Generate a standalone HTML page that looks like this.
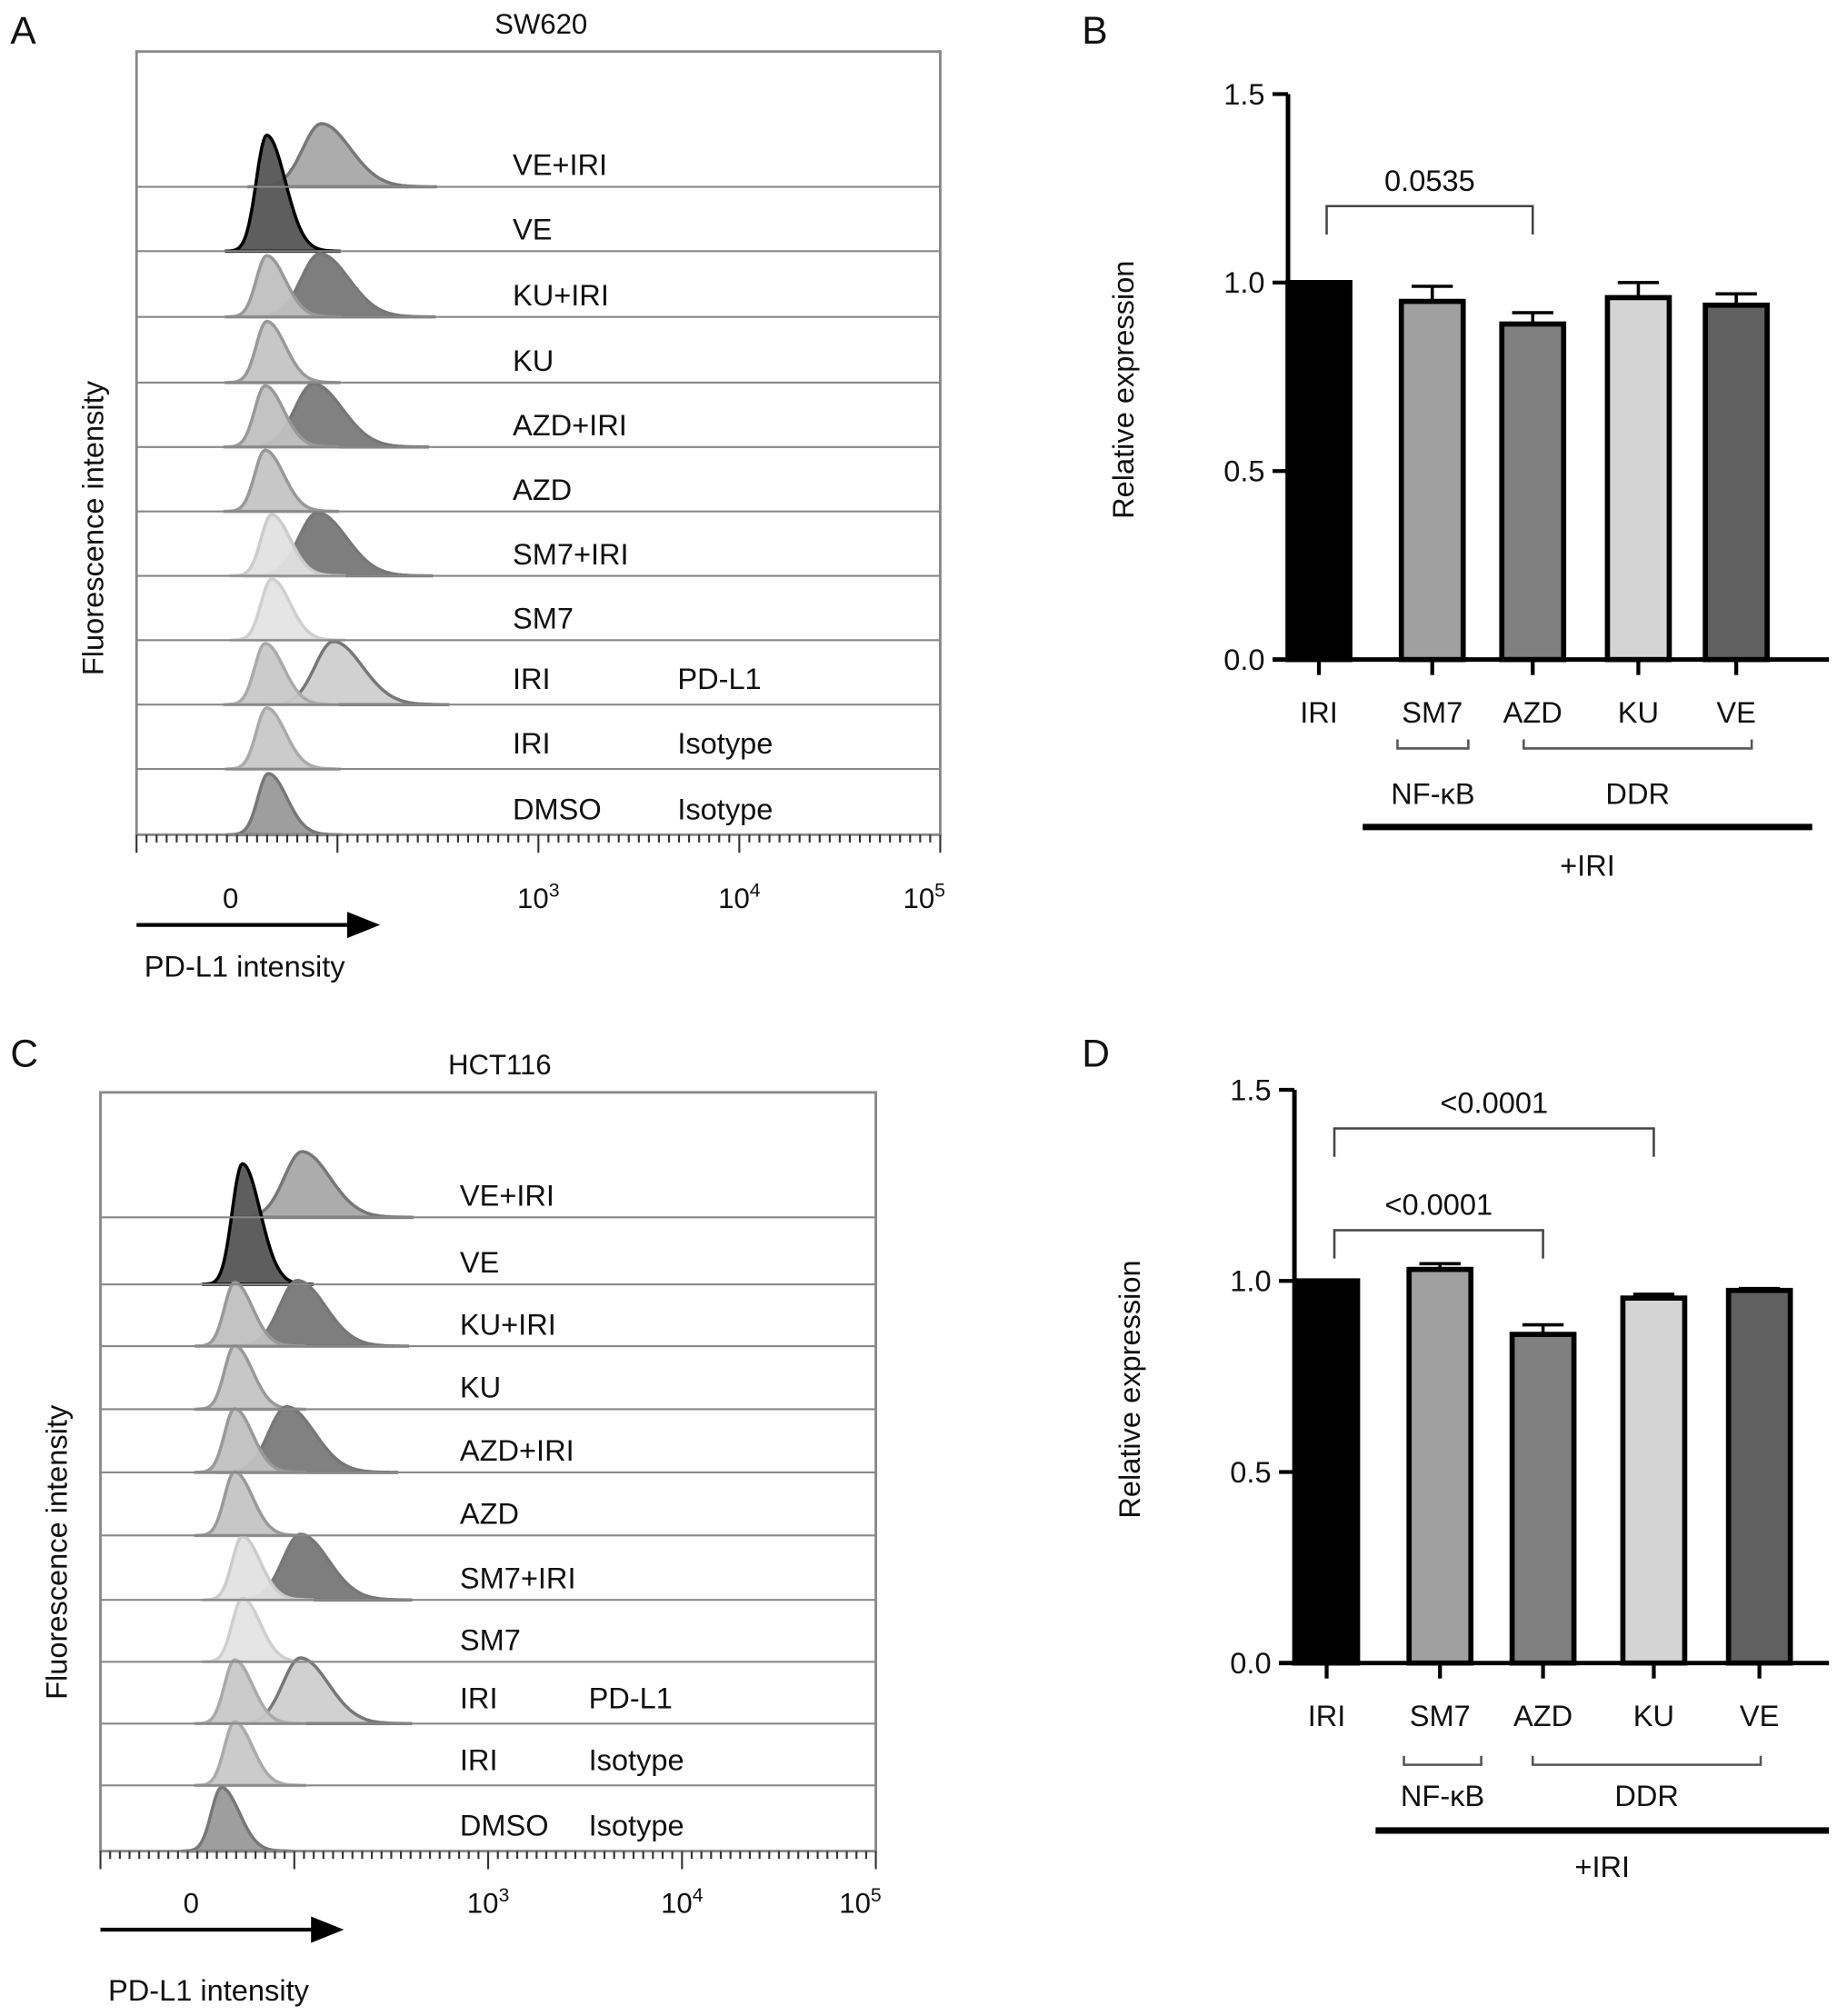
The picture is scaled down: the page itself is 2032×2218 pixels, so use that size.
<!DOCTYPE html>
<html><head><meta charset="utf-8"><style>
html,body{margin:0;padding:0;background:#fff}
svg{display:block}
text{font-family:"Liberation Sans",Arial,sans-serif;fill:#111}
</style></head><body>
<svg id="fig" width="2032" height="2218" viewBox="0 0 1434 1565" preserveAspectRatio="none" xmlns="http://www.w3.org/2000/svg">
<text x="8" y="34" font-size="30">A</text>
<text x="840" y="34" font-size="30">B</text>
<text x="8" y="828" font-size="30">C</text>
<text x="840" y="828" font-size="30">D</text>
<g id="pa"></g>
<g id="pc"></g>
<g id="pb"></g>
<g id="pd"></g>
</svg>
<script>
const NS="http://www.w3.org/2000/svg";
// ---- Histogram data (x in axis units 0..100 across the box) ----
const laneNamesA=["VE+IRI","VE","KU+IRI","KU","AZD+IRI","AZD","SM7+IRI","SM7","IRI","IRI","DMSO"];
const laneTagsA=["","","","","","","","","PD-L1","Isotype","Isotype"];
const peaksA1=[null,16.2,16.2,16.2,16.0,16.0,16.8,16.8,16.0,16.2,16.4];
const peaksA2=[23.0,null,22.8,null,22.0,null,22.5,null,24.5,null,null];
const laneNamesC=["VE+IRI","VE","KU+IRI","KU","AZD+IRI","AZD","SM7+IRI","SM7","IRI","IRI","DMSO"];
const laneTagsC=["","","","","","","","","PD-L1","Isotype","Isotype"];
const peaksC1=[null,18.3,17.3,17.3,17.3,17.3,18.3,18.3,17.3,17.3,15.6];
const peaksC2=[26.0,null,25.4,null,24.0,null,25.8,null,25.8,null,null];
const fill1=["#a8a8a8","#555","#c0c0c0","#c4c4c4","#c0c0c0","#c4c4c4","#e2e2e2","#e4e4e4","#c8c8c8","#c8c8c8","#999"];
const stroke1=["#888","#000","#999","#999","#999","#999","#ccc","#cfcfcf","#aaa","#aaa","#777"];
const fill2=["#a8a8a8",null,"#777","#777","#7a7a7a",null,"#777",null,"#cfcfcf",null,null];
const ctrlH=[0.9,1.8,0.95,0.95,0.95,0.95,0.95,0.95,0.95,0.95,0.95];

function el(tag,attrs,parent,txt){const e=document.createElementNS(NS,tag);for(const k in attrs)e.setAttribute(k,attrs[k]);if(txt!==undefined)e.textContent=txt;parent.appendChild(e);return e;}

function hist(g,cfg,names,tags,p1,p2){
  const {x0,x1,top,bases,title,tx,c1,c2,tickY,ticks,arrowY,labY,ylx,yly,fills2}=cfg;
  const xs=v=>x0+(x1-x0)*v/100;
  const lh=bases[1]-bases[0];
  const t=el('text',{x:tx,y:top-14,'font-size':22,'text-anchor':'middle'},g,title);
  
  
  const box=el('rect',{x:x0,y:top,width:x1-x0,height:bases[bases.length-1]-top,fill:'#fff',stroke:'#888','stroke-width':2},g);
  
  
  function peak(c,s1,s2,b,h,fill,stroke,nm){
    let d=`M${xs(c-4*s1)},${b}`;
    for(let v=c-4*s1;v<=c+4*s2;v+=0.2){const s=v<c?s1:s2;const y=b-h*Math.exp(-0.5*((v-c)/s)**2);d+=` L${xs(v).toFixed(1)},${y.toFixed(1)}`;}
    d+=` L${xs(c+4*s2)},${b} Z`;
    const p=el('path',{d:d,fill:fill,stroke:stroke,'stroke-width':2.5,'fill-opacity':0.95},g);
    
    
  }
  for(let i=0;i<bases.length;i++){
    const b=bases[i];
    if(p2[i]!==null){peak(p2[i],2.3,3.6,b,lh*0.98,fills2[i]||'#999','#777','histogram-peak-pdl1');}
    if(p1[i]!==null){peak(p1[i],1.3,2.3,b,lh*ctrlH[i],fill1[i],stroke1[i],'histogram-peak-control');}
  }
  for(let i=0;i<bases.length;i++){
    const b=bases[i];
    const ln=el('line',{x1:x0,x2:x1,y1:b,y2:b,stroke:'#888','stroke-width':1.5},g);
    
    
    const a=el('text',{x:c1,y:b-(i>=8?12:9),'font-size':23},g,names[i]);
    
    
    if(tags[i]){const t2=el('text',{x:c2,y:b-(i>=8?12:9),'font-size':23},g,tags[i]);
      
      }
  }
  const yb=bases[bases.length-1];
  for(let v=0;v<=100;v+=1.25){const e=el('line',{x1:xs(v),x2:xs(v),y1:yb,y2:yb+((v%25<0.01)?14:6),stroke:'#333','stroke-width':1.5},g);
    
    }
  ticks.forEach(tk=>{const e=el('text',{x:xs(tk.v),y:tickY,'font-size':22,'text-anchor':'middle'},g);
    
    
    e.appendChild(document.createTextNode(tk.b));
    if(tk.e){const s=el('tspan',{dy:-9,'font-size':15},e,tk.e);}});
  const ar=el('path',{d:`M${x0},${arrowY} L${x0+165},${arrowY} M${x0+165},${arrowY-8} L${x0+185},${arrowY} L${x0+165},${arrowY+8} Z`,stroke:'#000','stroke-width':3,fill:'#000'},g);
  
  
  const xl=el('text',{x:x0+6,y:labY,'font-size':23},g,'PD-L1 intensity');
  
  
  const yl=el('text',{x:ylx,y:yly,'font-size':23,'text-anchor':'middle',transform:`rotate(-90 ${ylx} ${yly})`},g,'Fluorescence intensity');
  
  
}
const ticksA=[{v:11.7,b:'0'},{v:50,b:'10',e:'3'},{v:75,b:'10',e:'4'},{v:98,b:'10',e:'5'}];
hist(document.getElementById('pa'),{x0:106,x1:730,top:40,bases:[145,195,246,297,347,397,447,497,547,597,648],title:'SW620',tx:420,c1:398,c2:526,tickY:705,ticks:ticksA,arrowY:718,labY:758,ylx:80,yly:410,fills2:fill2},laneNamesA,laneTagsA,peaksA1,peaksA2);
hist(document.getElementById('pc'),{x0:78,x1:680,top:848,bases:[945,997,1045,1094,1143,1192,1242,1290,1338,1386,1437],title:'HCT116',tx:388,c1:357,c2:457,tickY:1485,ticks:ticksA,arrowY:1498,labY:1553,ylx:52,yly:1205,fills2:fill2},laneNamesC,laneTagsC,peaksC1,peaksC2);

// ---- Bar chart data ----
const cats=["IRI","SM7","AZD","KU","VE"];
const barColors=["#000","#a0a0a0","#808080","#d4d4d4","#606060"];
const valsB=[1.0,0.95,0.89,0.96,0.94];
const errB=[0,0.04,0.03,0.04,0.03];
const valsD=[1.0,1.03,0.86,0.955,0.975];
const errD=[0,0.015,0.025,0.01,0.005];
const yTicks=[0.0,0.5,1.0,1.5];
const sigB=[{a:0,b:2,label:"0.0535"}];
const sigD=[{a:0,b:2,label:"<0.0001"},{a:0,b:3,label:"<0.0001"}];

function bars(g,cfg,vals,errs,sigs){
  const {ax,y0,y15,centers,xEnd,bw,labY,brY,grpY,lineY,iriY,ylx,sigY0,sigStep,thickX0,thickX1,sm7B,ddrB}=cfg;
  const ys=v=>y0+(y15-y0)*v/1.5;
  const yaxis=el('line',{x1:ax,x2:ax,y1:ys(1.5),y2:y0+2,stroke:'#000','stroke-width':3.5},g);
  
  
  const xaxis=el('line',{x1:ax-12,x2:xEnd,y1:y0,y2:y0,stroke:'#000','stroke-width':3.5},g);
  
  
  yTicks.forEach(t=>{const l=el('line',{x1:ax-12,x2:ax,y1:ys(t),y2:ys(t),stroke:'#000','stroke-width':3},g);
    
    
    const tx=el('text',{x:ax-18,y:ys(t)+8,'font-size':23,'text-anchor':'end'},g,t.toFixed(1));
    
    });
  const yl=el('text',{x:ylx,y:(ys(0)+ys(1.5))/2+10,'font-size':23,'text-anchor':'middle',transform:`rotate(-90 ${ylx} ${(ys(0)+ys(1.5))/2+10})`},g,'Relative expression');
  
  
  cats.forEach((c,i)=>{
    const cx=centers[i];
    if(errs[i]>0){const e=el('path',{d:`M${cx},${ys(vals[i])} L${cx},${ys(vals[i]+errs[i])} M${cx-16},${ys(vals[i]+errs[i])} L${cx+16},${ys(vals[i]+errs[i])}`,stroke:'#000','stroke-width':2.5,fill:'none'},g);
      
      }
    const r=el('rect',{x:cx-bw/2+2,y:ys(vals[i]),width:bw-4,height:y0-ys(vals[i]),fill:barColors[i],stroke:'#000','stroke-width':4},g);
    
    
    const tk=el('line',{x1:cx,x2:cx,y1:y0,y2:y0+12,stroke:'#000','stroke-width':3},g);
    
    
    const t=el('text',{x:cx,y:labY,'font-size':23,'text-anchor':'middle'},g,c);
    
    
  });
  sigs.forEach((s,k)=>{
    const y=sigY0-k*sigStep;const xa=centers[s.a]+6,xb=centers[s.b];
    const p=el('path',{d:`M${xa},${y+22} L${xa},${y} L${xb},${y} L${xb},${y+22}`,stroke:'#444','stroke-width':1.8,fill:'none'},g);
    
    
    const t=el('text',{x:(xa+xb)/2,y:y-12,'font-size':23,'text-anchor':'middle'},g,s.label);
    
    
  });
  const br=el('path',{d:`M${sm7B[0]},${brY} L${sm7B[0]},${brY+7} L${sm7B[1]},${brY+7} L${sm7B[1]},${brY} M${ddrB[0]},${brY} L${ddrB[0]},${brY+7} L${ddrB[1]},${brY+7} L${ddrB[1]},${brY}`,stroke:'#555','stroke-width':1.8,fill:'none'},g);
  
  
  const n=el('text',{x:(sm7B[0]+sm7B[1])/2,y:grpY,'font-size':23,'text-anchor':'middle'},g,'NF-κB');
  
  
  const d=el('text',{x:(ddrB[0]+ddrB[1])/2,y:grpY,'font-size':23,'text-anchor':'middle'},g,'DDR');
  
  
  const tl=el('line',{x1:thickX0,x2:thickX1,y1:lineY,y2:lineY,stroke:'#000','stroke-width':5},g);
  
  
  const it=el('text',{x:(thickX0+thickX1)/2,y:iriY,'font-size':23,'text-anchor':'middle'},g,'+IRI');
  
  
}
bars(document.getElementById('pb'),{ax:1000,y0:512,y15:73,centers:[1024,1112,1190,1272,1348],xEnd:1420,bw:52,labY:561,brY:574,grpY:624,lineY:642,iriY:680,ylx:880,sigY0:160,sigStep:0,thickX0:1058,thickX1:1407,sm7B:[1085,1140],ddrB:[1183,1360]},valsB,errB,sigB);
bars(document.getElementById('pd'),{ax:1005,y0:1291,y15:846,centers:[1030,1118,1198,1284,1366],xEnd:1420,bw:52,labY:1340,brY:1363,grpY:1402,lineY:1421,iriY:1457,ylx:885,sigY0:955,sigStep:79,thickX0:1068,thickX1:1420,sm7B:[1090,1150],ddrB:[1190,1367]},valsD,errD,sigD);
</script>
</body></html>
